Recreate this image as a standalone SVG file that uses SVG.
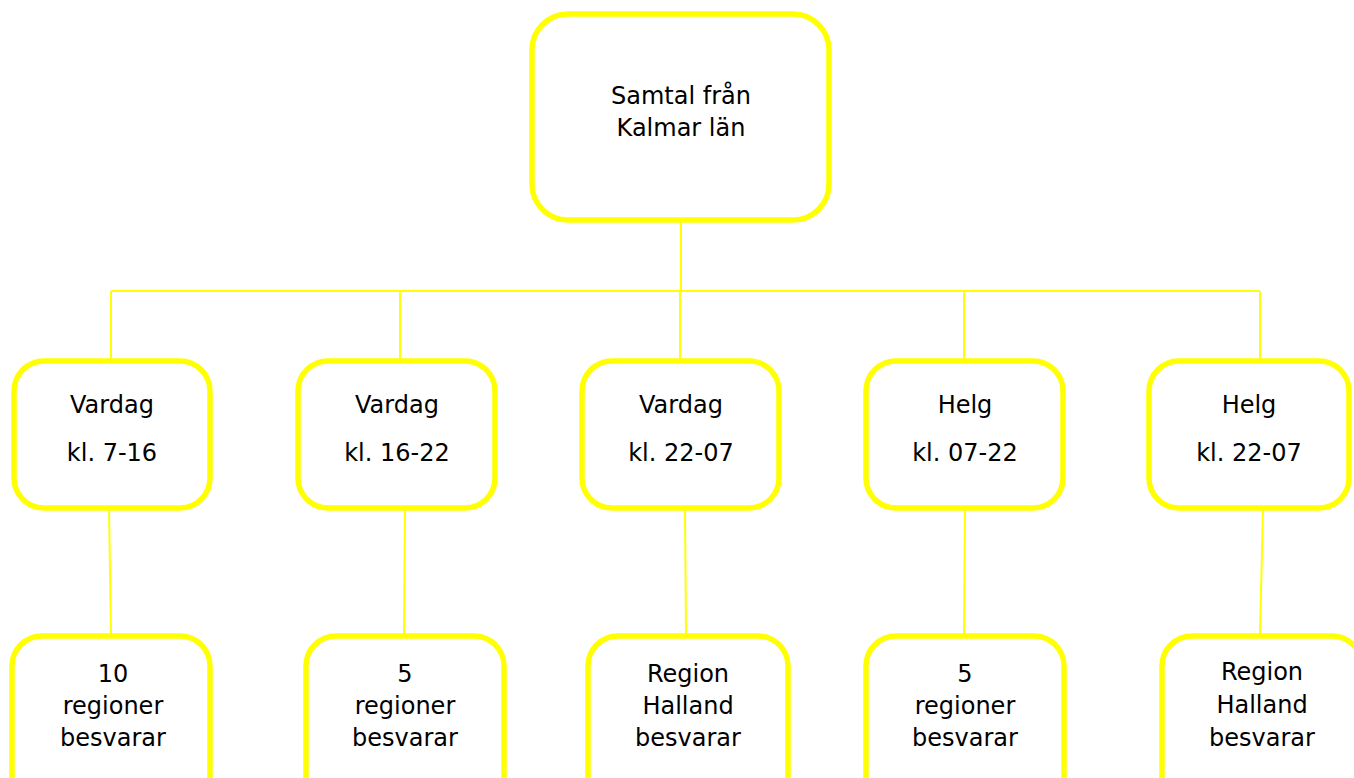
<svg xmlns="http://www.w3.org/2000/svg" width="1354" height="778" viewBox="0 0 1354 778">
<style>
.box{fill:#fff;stroke:#ffff00;stroke-width:5.5}
.ln{stroke:#ffff00;stroke-width:2;fill:none}
text{font-family:"DejaVu Sans","Noto Sans",sans-serif;font-size:24px;fill:#000;text-anchor:middle}
</style>
<rect width="1354" height="778" fill="#fff"/>
<g id="connectors">
<path class="ln" d="M681 220V291M111 291H1260M111 291V361M400 291V361M680 291V361M964 291V361M1260 291V361"/>
<path class="ln" d="M109 508L111 635M405 508L404 635M685 508L686 635M965 508L964 635M1263 508L1260 635"/>
</g>
<g id="root"><rect class="box" x="532" y="14" width="297" height="206" rx="36"/>
<text x="681" y="104">Samtal från</text><text x="681" y="136">Kalmar län</text></g>
<g id="m1"><rect class="box" x="14" y="361" width="196" height="147" rx="30"/>
<text x="112" y="413">Vardag</text><text x="112" y="461">kl. 7-16</text></g>
<g id="m2"><rect class="box" x="298" y="361" width="197" height="147" rx="30"/>
<text x="397" y="413">Vardag</text><text x="397" y="461">kl. 16-22</text></g>
<g id="m3"><rect class="box" x="582" y="361" width="197" height="147" rx="30"/>
<text x="681" y="413">Vardag</text><text x="681" y="461">kl. 22-07</text></g>
<g id="m4"><rect class="box" x="866" y="361" width="197" height="147" rx="30"/>
<text x="965" y="413">Helg</text><text x="965" y="461">kl. 07-22</text></g>
<g id="m5"><rect class="box" x="1149" y="361" width="200" height="147" rx="30"/>
<text x="1249" y="413">Helg</text><text x="1249" y="461">kl. 22-07</text></g>
<g id="b1"><rect class="box" x="12" y="636" width="198" height="170" rx="30"/>
<text x="113" y="682">10</text><text x="113" y="714">regioner</text><text x="113" y="746">besvarar</text></g>
<g id="b2"><rect class="box" x="306" y="636" width="198" height="170" rx="30"/>
<text x="405" y="682">5</text><text x="405" y="714">regioner</text><text x="405" y="746">besvarar</text></g>
<g id="b3"><rect class="box" x="588" y="636" width="200" height="170" rx="30"/>
<text x="688" y="682">Region</text><text x="688" y="714">Halland</text><text x="688" y="746">besvarar</text></g>
<g id="b4"><rect class="box" x="866" y="636" width="198" height="170" rx="30"/>
<text x="965" y="682">5</text><text x="965" y="714">regioner</text><text x="965" y="746">besvarar</text></g>
<g id="b5"><rect class="box" x="1162" y="636" width="200" height="170" rx="30"/>
<text x="1262" y="680">Region</text><text x="1262" y="713">Halland</text><text x="1262" y="746">besvarar</text></g>
</svg>
